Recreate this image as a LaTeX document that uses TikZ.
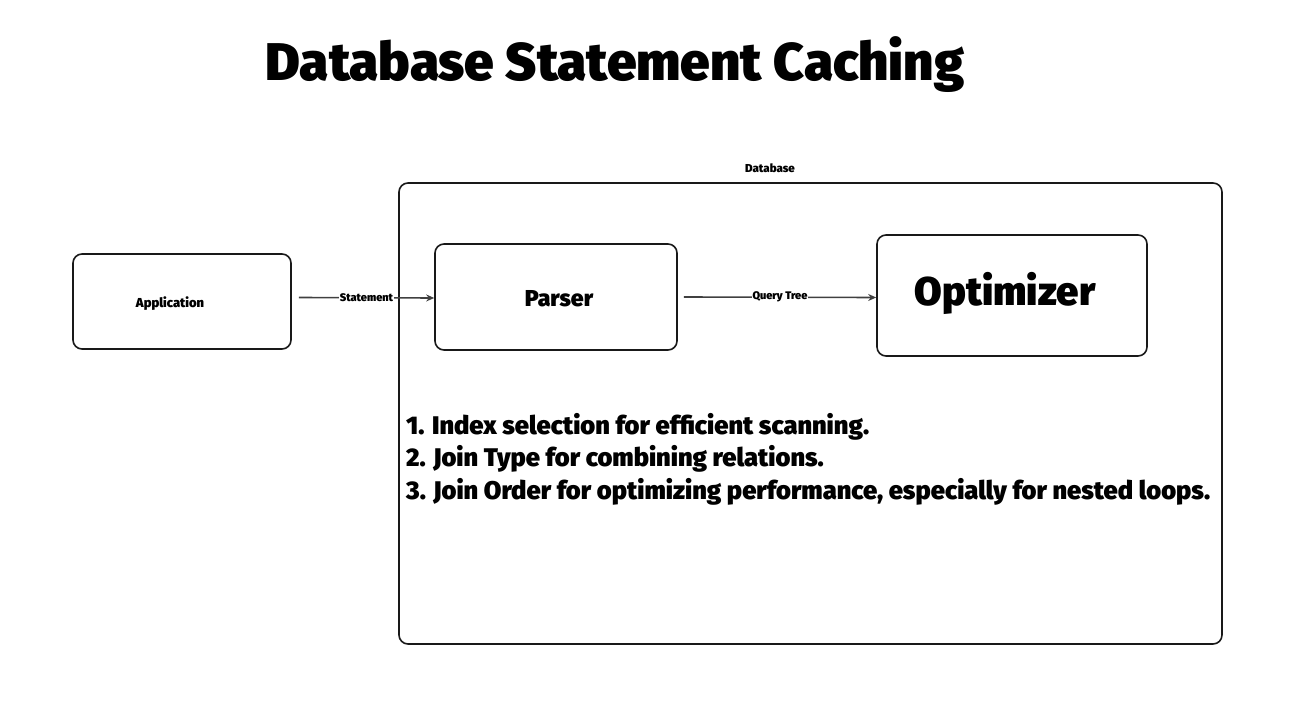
\documentclass[tikz,border=0pt]{standalone}
\usepackage{fontspec}
\setmainfont{Fira Sans}[UprightFont=* Bold, BoldFont=* Black]
\usetikzlibrary{arrows.meta}
\begin{document}
\begin{tikzpicture}[x=1pt,y=-1pt,
  box/.style={draw=black!90,line width=1.6pt,rounded corners=9pt,inner sep=0pt},
  conn/.style={draw=black!75,line width=1.6pt,-{Stealth[length=8pt,width=7pt]}},
  lbl/.style={fill=white,inner sep=1pt,font=\fontsize{11}{13}\selectfont\bfseries}]
\useasboundingbox (0,0) rectangle (1297,703);
\node[font=\fontsize{53}{60}\selectfont\bfseries] (title) at (615,65) {Database Statement Caching};
\node[font=\fontsize{11.5}{13}\selectfont\bfseries] (dblabel) at (770,168) {Database};
\node[box,minimum width=823pt,minimum height=461pt] (db) at (810.5,413.5) {};
\node[box,minimum width=218pt,minimum height=95pt] (app) at (182,301.5) {};
\node[font=\fontsize{13}{15}\selectfont\bfseries] (apptxt) at (170,304) {Application};
\node[box,minimum width=242pt,minimum height=106pt] (parser) at (556,297) {};
\node[font=\fontsize{23}{26}\selectfont\bfseries] (ptxt) at (559,299) {Parser};
\node[box,minimum width=270pt,minimum height=121pt] (opt) at (1012,295.5) {};
\node[font=\fontsize{40}{44}\selectfont\bfseries] (otxt) at (1005,293) {Optimizer};
\draw[conn] (app.east) ++(7,-4) coordinate (s1) -- node[lbl]{Statement} ([yshift=-1pt]parser.west);
\draw[conn] (parser.east) ++(6,0) coordinate (s2) -- node[lbl]{Query Tree} ([yshift=-2pt]opt.west);
\node[anchor=north west,align=left,font=\fontsize{25.5}{32.5}\selectfont\bfseries,inner sep=0pt] (list) at (406,413)
{1. Index selection for efficient scanning.\\
2. Join Type for combining relations.\\
3. Join Order for optimizing performance, especially for nested loops.};
\end{tikzpicture}
\end{document}
